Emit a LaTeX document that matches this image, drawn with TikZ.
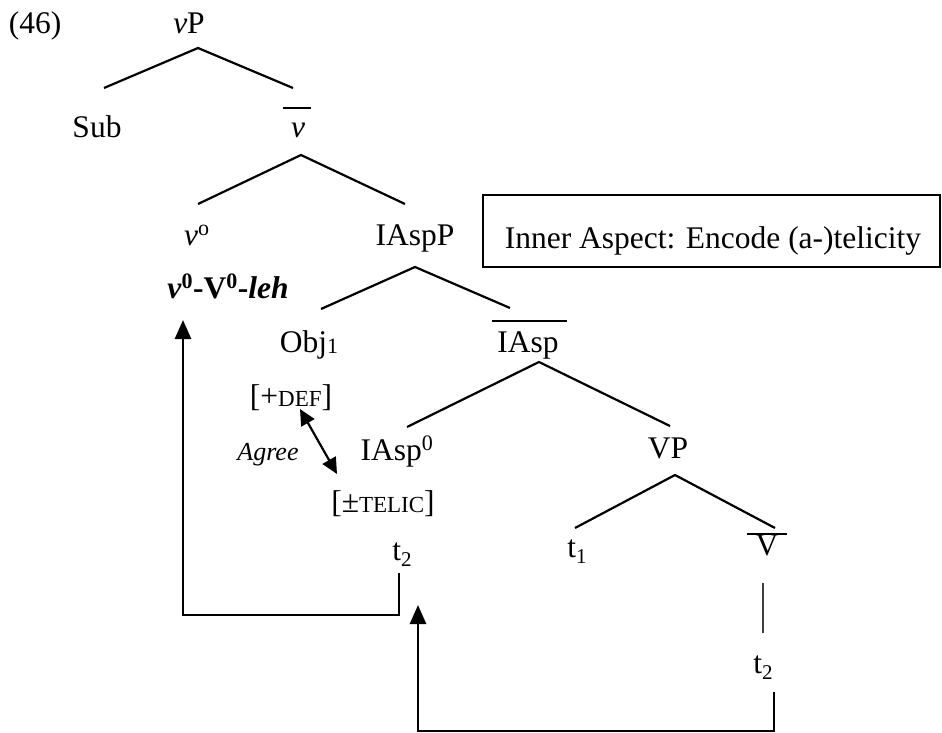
\documentclass[tikz,border=0pt]{standalone}
\usepackage{fontspec}
\setmainfont{Liberation Serif}
\usetikzlibrary{arrows.meta}
\newcommand\lowsub[1]{\raisebox{-0.22em}{\fontsize{21}{25}\selectfont #1}}
\newcommand\smallcp[1]{{\fontsize{23}{27}\selectfont #1}}
\begin{document}
\begin{tikzpicture}[x=1pt,y=-1pt,
  lbl/.style={inner sep=0pt, anchor=base, font=\fontsize{31.5}{38}\selectfont},
  branch/.style={line width=2.2pt},
  barline/.style={line width=2pt},
  thinline/.style={line width=1.4pt, black!75},
  move/.style={line width=2.6pt, -{Triangle[length=19pt,width=16pt]}},
  agreearrow/.style={line width=2.2pt, {Triangle[length=16pt,width=15pt]}-{Triangle[length=16pt,width=15pt]}},
  ]
\useasboundingbox (0,0) rectangle (942,733);

% labels
\node[lbl] (ex)   at (35,34)   {(46)};
\node[lbl] (vP)   at (189,34)  {\textit{v}P};
\node[lbl] (Sub)  at (97,138)  {Sub};
\node[lbl] (vbar) at (298,138) {\textit{v}};
\node[lbl] (vo)   at (197,245) {\textit{v}\textsuperscript{o}};
\node[lbl] (IAspP) at (415,245) {IAspP};
\node[lbl] (vVleh) at (228,298) {\textbf{\textit{v}\textsuperscript{0}-V\textsuperscript{0}-\textit{leh}}};
\node[lbl] (Obj)  at (309,352) {Obj\raisebox{-1pt}{\fontsize{22}{25}\selectfont 1}};
\node[lbl] (IAspbar) at (528,352) {IAsp};
\node[lbl] (def)  at (291,406) {[+\smallcp{DEF}]};
\node[lbl, font=\fontsize{26}{31}\selectfont\itshape] (agree) at (268,460) {Agree};
\node[lbl] (IAsp0) at (397,460) {IAsp\textsuperscript{0}};
\node[lbl] (VP)   at (668,458) {VP};
\node[lbl] (telic) at (383,512) {[±\smallcp{TELIC}]};
\node[lbl] (t2a)  at (402,560) {t\lowsub{2}};
\node[lbl] (t1)   at (577,557) {t\lowsub{1}};
\node[lbl] (Vbar) at (767,555) {V};
\node[lbl] (t2b)  at (763,673) {t\lowsub{2}};

% text box
\node[draw, line width=2.6pt, minimum width=457pt, minimum height=72pt, inner sep=0pt] (box) at (711.5,231) {};
\node[lbl] (boxtext) at (713,248) {Inner Aspect: Encode (a-)telicity};

% bars over intermediate projections
\draw[barline] (283,108) -- (311,108);
\draw[barline] (492,321) -- (567,321);
\draw[barline] (747,534) -- (787,534);

% branch points
\coordinate (vPa) at (198,48);
\coordinate (vPl) at (104,88);
\coordinate (vPr) at (293,88);
\coordinate (vba) at (301,155);
\coordinate (vbl) at (198,204);
\coordinate (vbr) at (405,204);
\coordinate (IPa) at (415,267);
\coordinate (IPl) at (321,309);
\coordinate (IPr) at (510,308);
\coordinate (Iba) at (539,362);
\coordinate (Ibl) at (407,427);
\coordinate (Ibr) at (670,426);
\coordinate (VPa) at (675,475);
\coordinate (VPl) at (575,528);
\coordinate (VPr) at (775,528);
\coordinate (Vbt) at (763,583);
\coordinate (Vbb) at (763,633);

\draw[branch] (vPl) -- (vPa) -- (vPr);
\draw[branch] (vbl) -- (vba) -- (vbr);
\draw[branch] (IPl) -- (IPa) -- (IPr);
\draw[branch] (Ibl) -- (Iba) -- (Ibr);
\draw[branch] (VPl) -- (VPa) -- (VPr);
\draw[thinline] (Vbt) -- (Vbb);

% Agree relation
\coordinate (ag1) at (300,409);
\coordinate (ag2) at (337,474);
\draw[agreearrow] (ag1) -- (ag2);

% head movement
\coordinate (m1s) at (399,573);
\coordinate (m1t) at (183,320);
\draw[move] (m1s) -- ++(0,42) -| (m1t);
\coordinate (m2s) at (774,692);
\coordinate (m2t) at (418,605);
\draw[move] (m2s) -- ++(0,39) -| (m2t);
\end{tikzpicture}
\end{document}
